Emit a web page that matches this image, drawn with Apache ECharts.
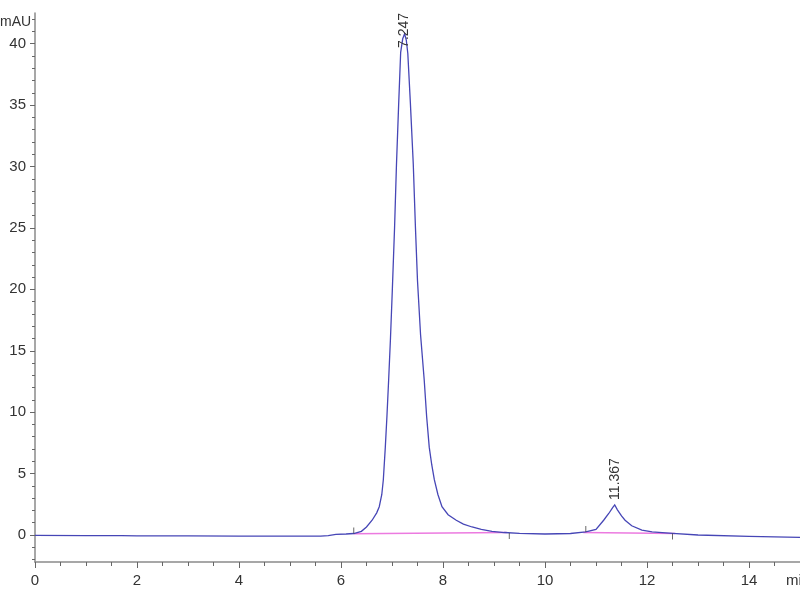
<!DOCTYPE html>
<html>
<head>
<meta charset="utf-8">
<script src="https://cdn.jsdelivr.net/npm/echarts@6/dist/echarts.min.js"></script>
<style>html,body{margin:0;padding:0;background:#fff}#c{width:800px;height:600px}</style>
</head>
<body>
<div id="c"></div>
<script>
// Retention time (min) and detector signal (mAU)
const times = [0, 1.0, 1.7, 2.0, 3.0, 4.0, 5.0, 5.6, 5.75, 5.9, 6.1, 6.25, 6.4, 6.5, 6.61, 6.7, 6.75, 6.8, 6.83, 6.869, 6.9, 6.934, 6.97, 7.006, 7.05, 7.088, 7.13, 7.17, 7.21, 7.247, 7.28, 7.31, 7.36, 7.417, 7.46, 7.50, 7.56, 7.632, 7.68, 7.73, 7.78, 7.83, 7.9, 7.98, 8.1, 8.26, 8.4, 8.57, 8.75, 8.96, 9.2, 9.5, 10.0, 10.5, 10.8, 11.0, 11.15, 11.25, 11.33, 11.367, 11.42, 11.5, 11.57, 11.7, 11.9, 12.1, 12.5, 13.0, 14.0, 15.0];
const signal = [-0.03, -0.05, -0.05, -0.07, -0.08, -0.1, -0.1, -0.1, -0.05, 0.05, 0.08, 0.12, 0.3, 0.65, 1.2, 1.8, 2.3, 3.3, 4.5, 7.15, 9.6, 12.6, 16.0, 19.9, 25.0, 30.2, 35.0, 39.3, 40.4, 40.8, 40.3, 39.2, 35.2, 30.2, 25.0, 20.7, 16.3, 12.6, 9.6, 7.15, 5.7, 4.5, 3.3, 2.3, 1.65, 1.2, 0.88, 0.65, 0.45, 0.3, 0.2, 0.13, 0.08, 0.12, 0.25, 0.45, 1.2, 1.75, 2.25, 2.45, 2.05, 1.55, 1.2, 0.75, 0.4, 0.25, 0.13, 0.0, -0.12, -0.2];

// Integration baselines (pink)
const base1Times = [6.25, 9.25];
const base1Values = [0.1, 0.2];
const base2Times = [10.75, 12.55];
const base2Values = [0.2, 0.12];

// Peak start/end markers
const markerTimes = [6.25, 9.3, 10.8, 12.5];
const markerValues = [0.12, 0.17, 0.25, 0.13];
const markerUp = [true, false, true, false];

// Peak labels
const peakTimes = [7.247, 11.367];
const peakHeights = [40.8, 2.45];
const peakLabels = ['7.247', '11.367'];

// Axis ticks
const xTicks = [0, 2, 4, 6, 8, 10, 12, 14];
const yTicks = [0, 5, 10, 15, 20, 25, 30, 35, 40];
const xMinor = [];
for (let v = 0.5; v <= 15; v += 0.5) if (v % 2 !== 0) xMinor.push(v);
const yMinor = [];
for (let v = -2; v <= 42; v += 1) if (v % 5 !== 0) yMinor.push(v);

const xMin = 0, xMax = 15, yMin = -2.2, yMax = 42.5;
const tickFont = "'Liberation Sans Narrow', 'Liberation Sans', Arial, sans-serif";
const axisGrey = '#8a8a8a';

const chart = echarts.init(document.getElementById('c'), null, {renderer: 'canvas'});
chart.setOption({
  animation: false,
  backgroundColor: '#ffffff',
  grid: {left: 35, right: -2, top: 13, bottom: 38, containLabel: false},
  xAxis: [{
    type: 'value', min: xMin, max: xMax,
    axisLine: {show: true, onZero: false, lineStyle: {color: axisGrey, width: 1.5}},
    axisTick: {show: true, customValues: xTicks, length: 6, lineStyle: {color: '#666'}},
    axisLabel: {show: true, customValues: xTicks, margin: 11, color: '#333', fontFamily: tickFont, fontSize: 15},
    splitLine: {show: false}
  }, {
    type: 'value', min: xMin, max: xMax, position: 'bottom',
    axisLine: {show: false, onZero: false},
    axisTick: {show: true, customValues: xMinor, length: 4, lineStyle: {color: '#666'}},
    axisLabel: {show: false},
    splitLine: {show: false}
  }],
  yAxis: [{
    type: 'value', min: yMin, max: yMax,
    axisLine: {show: true, onZero: false, lineStyle: {color: axisGrey, width: 1.5}},
    axisTick: {show: true, customValues: yTicks, length: 5, lineStyle: {color: '#666'}},
    axisLabel: {show: true, customValues: yTicks, margin: 9, color: '#333', fontFamily: tickFont, fontSize: 15},
    splitLine: {show: false}
  }, {
    type: 'value', min: yMin, max: yMax, position: 'left',
    axisLine: {show: false, onZero: false},
    axisTick: {show: true, customValues: yMinor, length: 3, lineStyle: {color: '#666'}},
    axisLabel: {show: false},
    splitLine: {show: false}
  }],
  graphic: [
    {type: 'text', left: 0, top: 15, style: {text: 'mAU', font: "14px 'Liberation Sans Narrow', Arial, sans-serif", fill: '#333'}},
    {type: 'text', left: 786, top: 573, style: {text: 'min', font: "15px 'Liberation Sans Narrow', Arial, sans-serif", fill: '#333'}}
  ],
  series: [
    {
      type: 'line', name: 'baseline1', xAxisIndex: 0, yAxisIndex: 0,
      data: base1Times.map((t, i) => [t, base1Values[i]]),
      showSymbol: false, lineStyle: {color: '#ec7ae0', width: 1.5}, z: 2, silent: true
    },
    {
      type: 'line', name: 'baseline2', xAxisIndex: 0, yAxisIndex: 0,
      data: base2Times.map((t, i) => [t, base2Values[i]]),
      showSymbol: false, lineStyle: {color: '#ec7ae0', width: 1.5}, z: 2, silent: true
    },
    {
      type: 'line', name: 'signal', xAxisIndex: 0, yAxisIndex: 0,
      data: times.map((t, i) => [t, signal[i]]),
      showSymbol: false, lineStyle: {color: '#4646b6', width: 1.3, join: 'miter'}, z: 3, silent: true,
      markPoint: {
        symbol: 'circle', symbolSize: 0, silent: true,
        data: peakTimes.map((t, i) => ({
          coord: [t, peakHeights[i]], value: peakLabels[i],
          label: {offset: i === 0 ? [-14, 0] : [5, 0]}
        })),
        label: {
          show: true, formatter: p => p.value, position: 'inside', rotate: 90,
          align: 'left', verticalAlign: 'middle',
          fontFamily: "'Liberation Sans', Arial, sans-serif", fontSize: 14, color: '#333'
        }
      }
    },
    {
      type: 'scatter', name: 'markers', xAxisIndex: 0, yAxisIndex: 0,
      data: markerTimes.map((t, i) => ({value: [t, markerValues[i]], symbolOffset: [0, markerUp[i] ? -3 : 3]})),
      symbol: 'rect', symbolSize: [1, 6], itemStyle: {color: '#444'}, z: 4, silent: true
    }
  ]
});
</script>
</body>
</html>
